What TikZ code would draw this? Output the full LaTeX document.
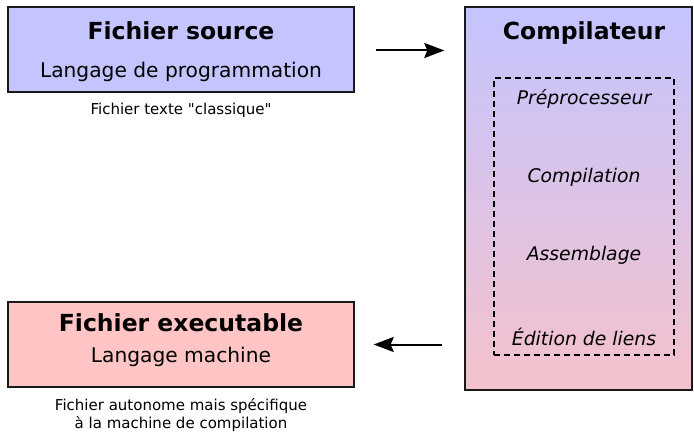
\documentclass[tikz,border=0pt]{standalone}
\usepackage{fontspec}
\setmainfont{DejaVu Sans}
\usetikzlibrary{arrows.meta}
\tikzstyle{box} = [rectangle, draw=black!90, line width=1.4pt, inner sep=0pt]
\tikzstyle{title} = [font=\fontsize{23.5}{28}\selectfont\bfseries]
\tikzstyle{sub} = [font=\fontsize{20.2}{24}\selectfont]
\tikzstyle{phase} = [font=\fontsize{18.8}{22}\selectfont\itshape]
\tikzstyle{note} = [font=\fontsize{15}{17.5}\selectfont, align=center]
\tikzstyle{arrow} = [line width=2pt, -{Stealth[length=20pt, width=15pt, inset=3pt]}]
\definecolor{srcblue}{RGB}{196,196,255}
\definecolor{exepink}{RGB}{255,196,196}
\definecolor{compbot}{RGB}{245,194,204}

\begin{document}
\begin{tikzpicture}[x=1pt, y=-1pt]
        \useasboundingbox (0,0) rectangle (694,433);

        % source file
        \node(src) [box, fill=srcblue, minimum width=346pt, minimum height=85pt] at (181,49.5) {};
        \node(srctitle) [title] at (181,31) {Fichier source};
        \node(srcsub) [sub] at (181,72) {Langage de programmation};
        \node(srcnote) [note] at (181,110) {Fichier texte \textquotedbl classique\textquotedbl};

        % executable file
        \node(exe) [box, fill=exepink, minimum width=346pt, minimum height=85pt] at (181,344.5) {};
        \node(exetitle) [title] at (181,323) {Fichier executable};
        \node(exesub) [sub] at (181,357) {Langage machine};
        \node(exenote) [note] at (181,415) {Fichier autonome mais spécifique\\à la machine de compilation};

        % compiler with its stages
        \node(comp) [box, top color=srcblue, bottom color=compbot, minimum width=227pt, minimum height=383pt] at (578.5,198.5) {};
        \node(comptitle) [title] at (584,33) {Compilateur};
        \node(stages) [draw, dashed, line width=1.2pt, dash pattern=on 6pt off 4pt, minimum width=180pt, minimum height=277pt] at (584,216.5) {};
        \node(pre) [phase] at (584,99) {Préprocesseur};
        \node(cmp) [phase] at (584,177) {Compilation};
        \node(asm) [phase] at (584,255) {Assemblage};
        \node(lnk) [phase] at (584,337) {Édition de liens};

        \draw[arrow, shorten <=21pt, shorten >=20pt] ([yshift=-1pt]src.east) -- ([yshift=-1pt]src.east -| comp.west);
        \draw[arrow, shorten <=22pt, shorten >=19pt] (exe.east -| comp.west) -- (exe.east);
    \end{tikzpicture}
\end{document}
